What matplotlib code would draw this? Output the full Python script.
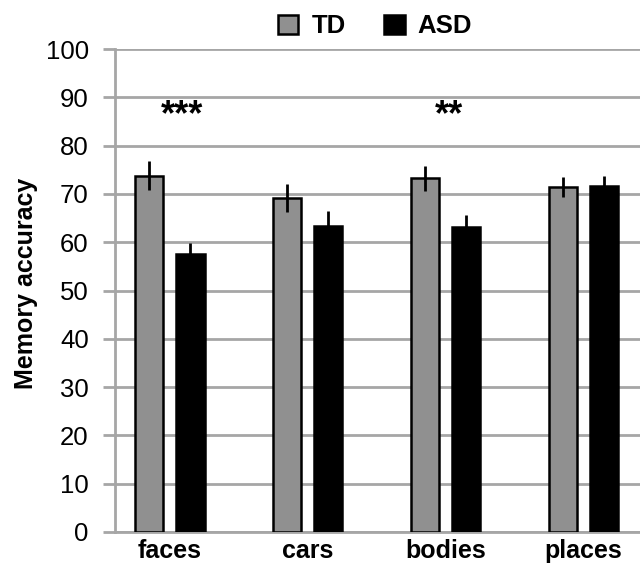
import matplotlib
matplotlib.use("Agg")
import matplotlib.pyplot as plt
import numpy as np

plt.rcParams['font.family'] = ['Liberation Sans', 'DejaVu Sans']

categories = ["faces", "cars", "bodies", "places"]
td_values = [73.8, 69.1, 73.2, 71.5]
td_errors = [3.0, 2.9, 2.5, 2.1]
asd_values = [57.5, 63.4, 63.2, 71.6]
asd_errors = [2.4, 3.0, 2.4, 2.1]
stars = ["***", "", "**", ""]
star_x = [0.09, 0, 0.025, 0]
star_y = 86.3

grid_gray = '#a6a6a6'

fig = plt.figure(figsize=(6.4, 5.68), dpi=100)
ax = fig.add_axes([0.18, 0.0634, 0.82, 0.8503])

x = np.arange(len(categories))
w = 0.205
off = 0.15
ax.bar(x - off, td_values, w, color='#909090', edgecolor='black', linewidth=1.8,
       yerr=td_errors, error_kw=dict(ecolor='black', elinewidth=2, capsize=0),
       label='TD', zorder=3)
ax.bar(x + off, asd_values, w, color='black', edgecolor='black', linewidth=1.8,
       yerr=asd_errors, error_kw=dict(ecolor='black', elinewidth=2, capsize=0),
       label='ASD', zorder=3)

for i, s in enumerate(stars):
    if s:
        ax.text(x[i] + star_x[i], star_y, s, ha='center', va='center',
                fontsize=26, fontweight='bold')

ax.set_ylim(0, 100)
ax.set_xlim(-0.395, 3.41)
ax.set_yticks(range(0, 101, 10))
ax.set_xticks(x)
ax.set_xticklabels(categories, fontsize=18, fontweight='bold')
ax.tick_params(axis='y', labelsize=18.5, length=9, width=2, color=grid_gray, pad=10)
ax.tick_params(axis='x', length=0, pad=5)
ax.yaxis.grid(True, color=grid_gray, linewidth=2)
ax.set_axisbelow(True)
for sp in ['top', 'right']:
    ax.spines[sp].set_visible(False)
ax.spines['left'].set_color(grid_gray)
ax.spines['left'].set_linewidth(2)
ax.spines['bottom'].set_color(grid_gray)
ax.spines['bottom'].set_linewidth(2)

ax.set_ylabel('Memory accuracy', fontsize=18, fontweight='bold')
ax.yaxis.set_label_coords(-0.148, 0.515)

leg = ax.legend(loc='lower center', bbox_to_anchor=(0.495, 0.99), ncol=2, frameon=False,
                prop=dict(size=18.5, weight='bold'), handlelength=0.8, handleheight=0.75,
                handletextpad=0.5, columnspacing=1.5, borderaxespad=0.2)

fig.savefig('out.png', dpi=100)
